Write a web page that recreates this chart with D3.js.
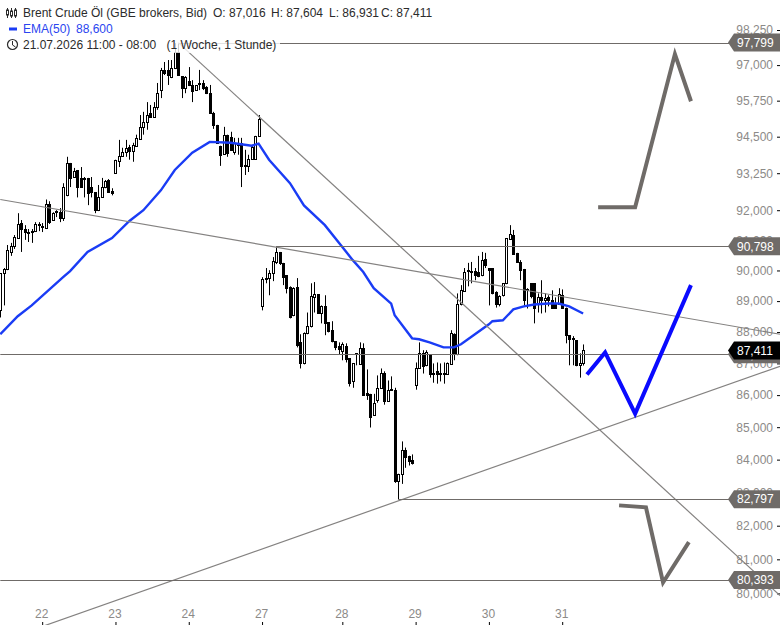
<!DOCTYPE html>
<html>
<head>
<meta charset="utf-8">
<script src="https://cdnjs.cloudflare.com/ajax/libs/d3/7.8.5/d3.min.js"></script>
<style>
  html, body { margin: 0; padding: 0; background: #fff; }
  svg { display: block; }
  text { font-family: "Liberation Sans", Arial, sans-serif; font-size: 12px; }
</style>
</head>
<body>
<div id="chart"></div>
<script>
// candles, one entry per hour bar
const opens = [88700,89910,90050,90610,90810,91070,91570,91370,91270,91270,91300,91500,91440,91400,92200,91670,91970,91930,91730,92500,93600,93120,93360,93090,93090,93090,92780,92600,92000,92430,92780,93020,92640,
  93260,93670,93840,93980,94150,94020,94190,94430,94840,95010,95320,95180,95530,96120,96830,96830,96580,96900,97460,96610,96190,96440,96300,96120,96370,96370,96220,96010,95320,94910,94190,93910,94570,94500,93980,94290,94290,93530,93500,93740,93740,94530,
  88830,89750,89750,89910,90280,90610,90250,89850,89450,88540,89450,87670,87000,87960,88190,89120,89220,88630,88830,88310,88060,87710,87550,87390,87550,87160,86430,87290,86970,87480,86070,86040,85390,85850,86230,86710,85820,86170,86170,83350,83570,84310,84120,84000,
  86330,86870,87320,86940,87290,86710,86750,86710,86680,86680,86970,87930,87290,88890,89320,90010,89950,89980,89950,89850,90380,90080,90080,89290,88920,89190,89580,91040,91170,90580,90280,90050,89380,89580,89580,88920,89120,89020,89120,89020,88890,88920,89190,88790,87900,87800,87740,86940,87016];
const highs = [89910,90080,90840,90910,91170,91900,91670,91500,91370,91370,91600,91600,91570,92360,92300,91930,92000,92070,92910,93810,93600,93430,93360,93460,93120,93090,93120,92600,92850,93090,93020,93050,92740,
  93710,94390,94120,94390,94220,94290,94570,95250,95360,95700,95600,95700,96370,96900,97110,97180,97180,97780,97780,96610,96610,96930,96470,96300,96830,96470,96260,96300,95360,94910,94190,94840,94570,94670,94460,94460,94460,94050,93880,94220,94530,95250,
  89780,90080,90010,90440,90770,90610,90250,89850,89480,89450,89750,87930,87990,88630,89580,89620,89220,88860,89190,88310,88350,87710,87670,87670,87640,87160,87000,87320,87670,87640,86810,86040,86040,86620,86840,86750,86460,86590,86230,83570,84560,84370,84120,84160,
  87030,87670,87420,87420,87290,87000,87030,87000,87030,87030,88060,87960,89250,89520,90080,90250,90280,90080,90480,90610,90580,90080,90080,89320,89190,89580,91070,91500,91340,90580,90340,90050,89420,89580,89580,89250,89680,89250,89190,89350,89120,89420,89380,88790,87900,87870,87740,87320,87604];
const lows = [88470,88860,90010,90480,90710,91040,90610,91010,90940,90910,91270,91300,91270,91370,91540,91640,91770,91600,91640,92470,92780,93090,92430,92780,92430,92170,92430,91900,91970,92430,92740,92600,92500,
  93260,93460,93810,93810,93710,93640,94190,94390,94570,94740,95150,95150,95430,95840,96650,96300,96540,96860,96650,95840,96010,96260,95700,96120,96120,96120,95980,95320,94770,94290,93500,93880,93810,94050,93880,93880,92780,93190,93290,93710,93710,94500,
  88700,89580,89190,89650,90210,90180,89520,89250,88440,88510,87510,86840,86970,87930,88150,88630,88600,88280,87900,87990,87670,87420,87290,87100,87030,86270,86230,86940,86970,85980,85850,84990,85360,85760,86230,85700,85790,86140,83290,82800,83260,83750,83820,83850,
  86170,86840,86680,86910,86550,86390,86360,86430,86360,86650,86970,87100,87260,88860,89320,89480,89580,89680,89780,89810,90080,88860,89220,88790,88830,89150,89550,91010,90510,90250,89680,88860,88760,89090,88280,88630,88600,88630,88830,88790,88760,88890,88760,87640,86940,86940,86910,86550,86931];
const closes = [89910,90050,90680,90810,91110,91540,91370,91270,91240,91300,91540,91540,91470,92200,91600,91900,91930,91730,92780,93600,93090,93330,92780,92780,93050,92570,92600,92000,92430,92780,92980,92600,92570,
  93710,93840,93980,94120,94020,94220,94460,94840,95010,95250,95180,95530,96010,96830,96720,96650,96900,97460,96650,96190,96580,96300,96080,96300,96330,96190,96010,95320,94910,94290,93880,94570,93950,94050,94290,94220,93500,93500,93740,94150,94530,95120,
  89720,89720,89910,90310,90610,90250,89780,89420,88470,89420,87580,87000,87960,88190,89150,89220,88630,88830,88280,88030,87710,87510,87450,87610,87130,86390,87000,87320,87480,86010,86010,85330,85760,86230,86710,85820,86170,86200,83350,83570,84310,84090,83970,83910,
  86870,87320,86910,87350,86680,86680,86680,86680,86710,87000,87960,87290,88920,89350,89950,89980,89980,89850,89810,90340,90180,90010,89250,88920,89150,89580,91070,91210,90540,90280,90010,89050,89350,89150,88790,89120,89020,89090,89020,88790,88790,89220,88790,87900,87770,87770,86940,87000,87411];

// EMA(50), read every few bars
const emaBars = [0,5,9,18,20,25,32,37,41,46,50,55,60,66,72,74,77,83,87,93,98,101,104,107,112,113,118,120,123,127,130,132,136,140,141,144,147,150,153,157,160,163,167];
const emaValues = [87930,88510,88860,89780,89980,90610,91070,91640,92000,92670,93360,93950,94320,94290,94190,94260,93710,92910,92160,91500,90770,90340,89950,89420,88920,88540,87800,87770,87670,87510,87510,87610,87930,88250,88350,88380,88730,88830,88890,88920,88920,88830,88600];

// axes
const priceTicks = [98250,97000,95750,94500,93250,92000,91000,90000,89000,88000,87000,86000,85000,84000,83000,82000,81000,80000];
const dayBars = [12,33,54,75,98,119,140,161];
const dayLabels = ["22","23","24","27","28","29","30","31"];

// horizontal levels with their tags
const levelPrices = [97799,90798,87290,82797,80393];
const levelTags = ["97,799","90,798","87,290","82,797","80,393"];
const levelStart = [51,79,0,114,0];

// trend lines: [bar, price] pairs
const trendA = [[51,97799],[223.4,79940]];
const trendB = [[0,92360],[223.4,87930]];
const trendC = [[12,79040],[223.4,86910]];

// hand drawn scenarios
const sketchUp = [[171.3,92100],[181.9,92100],[193.3,97390],[197.9,95730]];
const sketchMid = [[168.1,86650],[173.3,87350],[181.9,85420],[197.9,89520]];
const sketchDown = [[177.3,82610],[185,82550],[189.9,80320],[197.3,81510]];

const lastClose = 87411;

const width = 780, height = 625;
const grey = "#6f6b68";

const svg = d3.select("#chart").append("svg")
  .attr("width", width)
  .attr("height", height);

const x = d3.scaleLinear().domain([0, 100]).range([0.3, 349.3]);
const y = d3.scaleLog().domain([80000, 98250]).range([593.4, 30]);

const lineGen = d3.line().x(d => x(d[0])).y(d => y(d[1]));

// tick labels go first, the price tags sit on top of them
const yAxis = d3.axisRight(y)
  .tickValues(priceTicks)
  .tickFormat(d => d3.format(",")(d))
  .tickSize(3);

const yG = svg.append("g")
  .attr("transform", "translate(777,0)")
  .call(yAxis);
yG.select(".domain").remove();
yG.selectAll("line").attr("stroke", "#000");
yG.selectAll("text")
  .attr("x", -4)
  .attr("text-anchor", "end")
  .attr("fill", "#8c8a88")
  .style("font-size", "12px");

const xAxis = d3.axisBottom(x)
  .tickValues(dayBars)
  .tickFormat((d, i) => dayLabels[i])
  .tickSize(3);

const xG = svg.append("g")
  .attr("transform", "translate(0,622)")
  .call(xAxis);
xG.select(".domain").remove();
xG.selectAll("line").attr("stroke", "#000");
xG.selectAll("text")
  .attr("x", -1)
  .attr("y", -8)
  .attr("dy", "0.32em")
  .attr("fill", "#8c8a88")
  .style("font-size", "12px");

// candles
closes.forEach((c, i) => {
  const o = opens[i];
  const up = c >= o;
  const cx = Math.round(x(i));
  const top = Math.round(y(Math.max(o, c)));
  const bottom = Math.round(y(Math.min(o, c)));

  svg.append("line")
    .attr("x1", cx + 0.5).attr("x2", cx + 0.5)
    .attr("y1", y(highs[i])).attr("y2", y(lows[i]))
    .attr("stroke", "#000");

  svg.append("rect")
    .attr("x", cx - 0.5)
    .attr("y", top + 0.5)
    .attr("width", 2)
    .attr("height", Math.max(bottom - top, 1))
    .attr("fill", up ? "#fff" : "#000")
    .attr("stroke", "#000");
});

// EMA
svg.append("path")
  .attr("d", d3.line().x(d => x(d)).y((d, i) => y(emaValues[i]))(emaBars))
  .attr("fill", "none")
  .attr("stroke", "#1a3cf5")
  .attr("stroke-width", 2.4);

// trend lines
[trendA, trendB, trendC].forEach(t => {
  svg.append("path")
    .attr("d", lineGen(t))
    .attr("fill", "none")
    .attr("stroke", "#848281")
    .attr("stroke-width", 1.2);
});

// horizontal levels
levelPrices.forEach((p, i) => {
  const ly = Math.round(y(p)) + 0.5;
  svg.append("line")
    .attr("x1", x(levelStart[i])).attr("x2", 732)
    .attr("y1", ly).attr("y2", ly)
    .attr("stroke", grey)
    .attr("stroke-width", 1);
});

// sketches
[[sketchUp, grey], [sketchMid, "#0a0aff"], [sketchDown, grey]].forEach(([pts, col]) => {
  svg.append("path")
    .attr("d", lineGen(pts))
    .attr("fill", "none")
    .attr("stroke", col)
    .attr("stroke-width", 4);
});

function tag(p, label, fill) {
  const ty = y(p);
  svg.append("path")
    .attr("d", `M728,${ty}L734,${ty - 9}H780V${ty + 9}H734Z`)
    .attr("fill", fill);
  svg.append("text")
    .attr("x", 737).attr("y", ty)
    .attr("dy", "0.36em")
    .attr("fill", "#fff")
    .text(label);
}

levelPrices.forEach((p, i) => tag(p, levelTags[i], grey));
tag(lastClose, "87,411", "#000");

// legend, its backdrop mutes whatever runs behind the last row
svg.append("rect")
  .attr("x", 0).attr("y", 37)
  .attr("width", 280).attr("height", 16)
  .attr("fill", "#fff")
  .attr("opacity", 0.8);

const ink = "#2b2b2b", emaInk = "#2a45f0";
const legend = [
  ["Brent Crude Öl (GBE brokers, Bid)", 23, 17, ink],
  ["O: 87,016", 213, 17, ink],
  ["H: 87,604", 271, 17, ink],
  ["L: 86,931", 329, 17, ink],
  ["C: 87,411", 381, 17, ink],
  ["EMA(50)", 23, 33, emaInk],
  ["88,600", 76, 33, emaInk],
  ["21.07.2026 11:00 - 08:00", 23, 49, ink],
  ["(1 Woche, 1 Stunde)", 166.5, 49, ink]
];
svg.selectAll(".legend-text")
  .data(legend)
  .enter()
  .append("text")
  .attr("class", "legend-text")
  .attr("x", d => d[1])
  .attr("y", d => d[2])
  .attr("fill", d => d[3])
  .text(d => d[0]);

// little candle icon
[[7.5, 8, 18, 10, 15], [11.5, 8, 18, 11, 16], [15.5, 8, 18, 10, 16]].forEach(c => {
  svg.append("line").attr("x1", c[0]).attr("x2", c[0]).attr("y1", c[1]).attr("y2", c[2]).attr("stroke", ink);
  svg.append("rect").attr("x", c[0] - 1).attr("y", c[3]).attr("width", 2).attr("height", c[4] - c[3])
    .attr("fill", "#fff").attr("stroke", ink);
});

svg.append("rect").attr("x", 9).attr("y", 27.5).attr("width", 8).attr("height", 3).attr("fill", "#1a3cf5");

// clock
svg.append("circle").attr("cx", 12.5).attr("cy", 44.5).attr("r", 5).attr("fill", "none").attr("stroke", ink).attr("stroke-width", 1.2);
svg.append("path").attr("d", "M12.5,41V45L15.5,47").attr("fill", "none").attr("stroke", ink);
</script>
</body>
</html>
